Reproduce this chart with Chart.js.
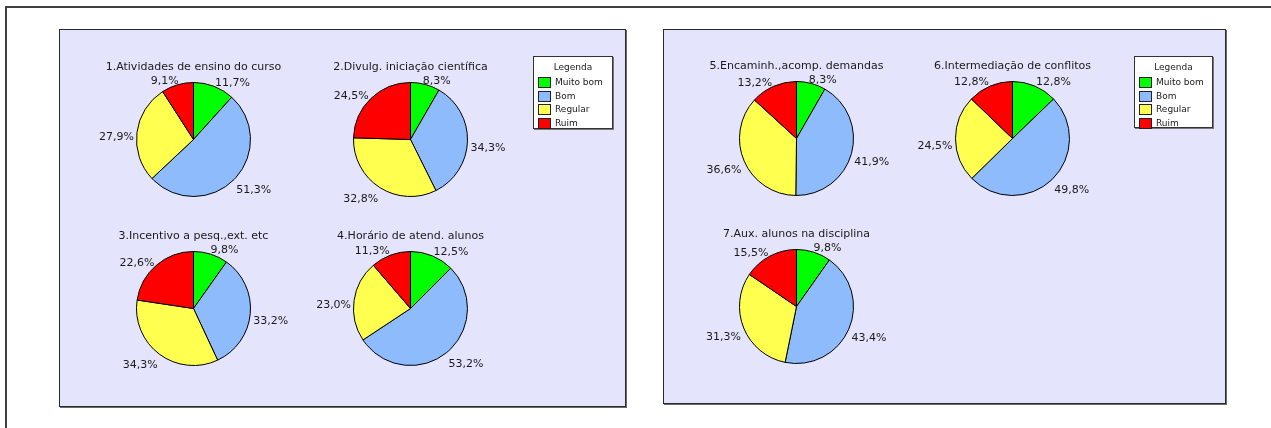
<!DOCTYPE html>
<html><head><meta charset="utf-8">
<script src="https://cdn.jsdelivr.net/npm/chart.js@4/dist/chart.umd.min.js"></script>
<style>
html,body{margin:0;padding:0;background:#fff;width:1271px;height:428px;overflow:hidden;font-family:"DejaVu Sans",sans-serif;}
#frame{position:absolute;left:5px;top:6px;width:1400px;height:600px;border:2px solid #404040;}
.panel{position:absolute;background:#E4E4FC;border:1px solid #2a2a2a;box-shadow:1px 1px 0 #6a6a6a;}
canvas.pie{position:absolute;}
.legend{position:absolute;background:#fff;border:1px solid #333;box-shadow:1px 1px 0 #777;font:9px "DejaVu Sans",sans-serif;color:#1a1a1a;}
.legend .hd{position:absolute;left:0;right:0;text-align:center;line-height:10px;}
.legend .sw{position:absolute;width:11px;height:9px;border:1px solid #222;}
.legend .tx{position:absolute;line-height:10px;white-space:nowrap;}
</style></head>
<body>
<div id="frame"></div>
<div class="panel" style="left:59px;top:29px;width:565px;height:376px;"></div>
<div class="panel" style="left:663px;top:29px;width:561px;height:373px;"></div>
<script>
// ---- data ----
const categories = ['Muito bom', 'Bom', 'Regular', 'Ruim'];
const legendTitle = 'Legenda';
const titles = [
  '1.Atividades de ensino do curso',
  '2.Divulg. iniciação científica',
  '3.Incentivo a pesq.,ext. etc',
  '4.Horário de atend. alunos',
  '5.Encaminh.,acomp. demandas',
  '6.Intermediação de conflitos',
  '7.Aux. alunos na disciplina'
];
const pie1 = [11.7, 51.3, 27.9, 9.1];
const pie2 = [8.3, 34.3, 32.8, 24.5];
const pie3 = [9.8, 33.2, 34.3, 22.6];
const pie4 = [12.5, 53.2, 23.0, 11.3];
const pie5 = [8.3, 41.9, 36.6, 13.2];
const pie6 = [12.8, 49.8, 24.5, 12.8];
const pie7 = [9.8, 43.4, 31.3, 15.5];
const series = [pie1, pie2, pie3, pie4, pie5, pie6, pie7];

// ---- layout / style ----
const colors = ['#00FF00', '#8DBBFC', '#FFFF50', '#FF0000'];
const centers = [[194,140],[411,140],[194,309],[411,309],[797,139],[1013,139],[797,307]];
const legendBoxes = [[533,56,78,71],[1134,56,77,70]];
const CW = 240, CH = 180;

const labelPlugin = {
  id: 'pieLabels',
  afterDatasetsDraw(chart, args, opts) {
    const ctx = chart.ctx;
    const meta = chart.getDatasetMeta(0);
    const data = chart.data.datasets[0].data;
    const cl = v => Math.max(-1, Math.min(1, v));
    ctx.save();
    ctx.fillStyle = '#1a1a1a';
    ctx.font = '11px "DejaVu Sans"';
    ctx.textAlign = 'center';
    ctx.textBaseline = 'alphabetic';
    let cx = 0, cy = 0;
    meta.data.forEach((arc, i) => {
      const p = arc.getProps(['x','y','startAngle','endAngle','outerRadius'], true);
      cx = p.x; cy = p.y;
      const mid = (p.startAngle + p.endAngle) / 2;
      const ux = Math.cos(mid), uy = Math.sin(mid);
      const txt = data[i].toFixed(1).replace('.', ',') + '%';
      const w = ctx.measureText(txt).width;
      const R = p.outerRadius + 3;
      const dx = R * ux + cl(3 * ux) * w / 2;
      const dy = (R + 2) * uy + 6 + 6 * Math.min(0, cl(2 * uy));
      ctx.fillText(txt, cx + dx, cy + dy + 4);
    });
    ctx.fillText(opts.title, cx, cy - 70);
    ctx.restore();
  }
};

series.forEach((vals, k) => {
  const cv = document.createElement('canvas');
  cv.className = 'pie';
  cv.width = CW; cv.height = CH;
  cv.style.width = CW + 'px'; cv.style.height = CH + 'px';
  cv.style.left = (centers[k][0] - 120) + 'px';
  cv.style.top = (centers[k][1] - 90) + 'px';
  document.body.appendChild(cv);
  new Chart(cv, {
    type: 'pie',
    data: {
      labels: categories,
      datasets: [{
        data: vals,
        backgroundColor: colors,
        borderColor: '#000',
        borderWidth: 1
      }]
    },
    options: {
      responsive: false,
      animation: false,
      devicePixelRatio: 1,
      layout: { padding: { left: 62, right: 63, top: 32, bottom: 33 } },
      plugins: {
        legend: { display: false },
        tooltip: { enabled: false },
        pieLabels: { title: titles[k] }
      }
    },
    plugins: [labelPlugin]
  });
});

// legends
legendBoxes.forEach(b => {
  const d = document.createElement('div');
  d.className = 'legend';
  d.style.left = b[0] + 'px'; d.style.top = b[1] + 'px';
  d.style.width = b[2] + 'px'; d.style.height = b[3] + 'px';
  const hd = document.createElement('div');
  hd.className = 'hd'; hd.style.top = '5px'; hd.textContent = legendTitle;
  d.appendChild(hd);
  categories.forEach((c, i) => {
    const yc = 25 + i * 13.7;
    const sw = document.createElement('div');
    sw.className = 'sw';
    sw.style.left = '4px'; sw.style.top = Math.round(yc - 5) + 'px';
    sw.style.background = colors[i];
    d.appendChild(sw);
    const tx = document.createElement('div');
    tx.className = 'tx';
    tx.style.left = '21px'; tx.style.top = Math.round(yc - 5) + 'px';
    tx.textContent = c;
    d.appendChild(tx);
  });
  document.body.appendChild(d);
});
</script>
</body></html>
